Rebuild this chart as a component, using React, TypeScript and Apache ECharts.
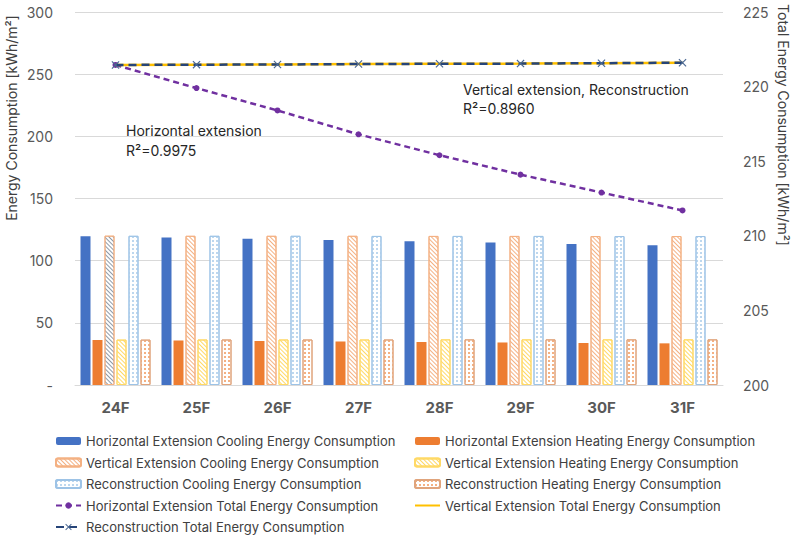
import React, { useEffect, useRef } from "react";
import * as echarts from "echarts";

const categories = ["24F", "25F", "26F", "27F", "28F", "29F", "30F", "31F"];
const leftTicks = [0, 50, 100, 150, 200, 250, 300];
const hCooling = [119.6, 118.7, 117.6, 116.6, 115.6, 114.6, 113.5, 112.4];
const hHeating = [36.2, 35.8, 35.4, 35.0, 34.6, 34.2, 33.8, 33.5];
const vCooling = [120.1, 120.0, 120.0, 120.0, 119.9, 119.9, 119.8, 119.8];
const vHeating = [36.5, 36.6, 36.6, 36.6, 36.7, 36.7, 36.7, 36.7];
const rCooling = [120.0, 120.0, 120.0, 119.9, 119.9, 119.9, 119.8, 119.8];
const rHeating = [36.5, 36.6, 36.6, 36.6, 36.7, 36.7, 36.7, 36.7];
const hTotal = [221.45, 219.9, 218.4, 216.8, 215.4, 214.1, 212.9, 211.7];
const vTotal = [221.45, 221.47, 221.48, 221.51, 221.53, 221.54, 221.57, 221.6];
const rTotal = [221.45, 221.47, 221.48, 221.51, 221.53, 221.54, 221.57, 221.6];

const names = [
  "Horizontal Extension Cooling Energy Consumption",
  "Horizontal Extension Heating Energy Consumption",
  "Vertical Extension Cooling Energy Consumption",
  "Vertical Extension Heating Energy Consumption",
  "Reconstruction Cooling Energy Consumption",
  "Reconstruction Heating Energy Consumption",
  "Horizontal Extension Total Energy Consumption",
  "Vertical Extension Total Energy Consumption",
  "Reconstruction Total Energy Consumption",
];

const FONT = "Inter, 'Noto Sans', sans-serif";

const stripes = (color: string) => ({
  symbol: "rect",
  symbolSize: 1,
  dashArrayX: [1, 0],
  dashArrayY: [1, 1.6],
  rotation: Math.PI / 4,
  color,
});
const dots = (color: string) => ({
  symbol: "rect",
  symbolSize: 1,
  dashArrayX: [1.2, 1.2],
  dashArrayY: [1.2, 1.2],
  rotation: 0,
  color,
});

const xSymbol = "path://M0,1L1,0L5,4L9,0L10,1L6,5L10,9L9,10L5,6L1,10L0,9L4,5Z";

export default function App() {
  const ref = useRef<HTMLDivElement>(null);
  useEffect(() => {
    if (!ref.current) return;
    const chart = echarts.init(ref.current, null, { renderer: "svg" });
    const barBase = { type: "bar", barWidth: 10, barGap: "20%", yAxisIndex: 0 };
    const legendText = { fontFamily: FONT, fontSize: 13, color: "#404040", lineHeight: 16 };
    const legendBase = {
      orient: "vertical",
      top: 433,
      padding: 0,
      itemWidth: 25,
      itemHeight: 8,
      itemGap: 5.5,
      textStyle: legendText,
    };
    chart.setOption({
      animation: false,
      textStyle: { fontFamily: FONT },
      grid: { left: 75, right: 77, top: 12, bottom: 156 },
      xAxis: {
        type: "category",
        data: categories,
        axisLine: { lineStyle: { color: "#D9D9D9", width: 1 } },
        axisTick: { show: false },
        axisLabel: { fontFamily: FONT, fontSize: 15, fontWeight: "bold", color: "#595959", margin: 15 },
      },
      yAxis: [
        {
          type: "value",
          min: leftTicks[0],
          max: leftTicks[leftTicks.length - 1],
          interval: 50,
          axisLine: { show: false },
          axisTick: { show: false },
          splitLine: { lineStyle: { color: "#D9D9D9", width: 1 } },
          axisLabel: {
            fontFamily: FONT,
            fontSize: 14,
            color: "#595959",
            margin: 22,
            formatter: (v: number) => (v === 0 ? "-" : String(v)),
          },
        },
        {
          type: "value",
          min: 200,
          max: 225,
          interval: 5,
          axisLine: { show: false },
          axisTick: { show: false },
          splitLine: { show: false },
          axisLabel: { fontFamily: FONT, fontSize: 14, color: "#595959", margin: 20 },
        },
      ],
      legend: [
        {
          ...legendBase,
          left: 55,
          data: [names[0], names[2], names[4], names[6], names[8]],
        },
        {
          ...legendBase,
          left: 414,
          data: [names[1], names[3], names[5], { name: names[7], itemStyle: { opacity: 0 } }],
        },
      ],
      graphic: [
        {
          type: "text",
          x: 11,
          y: 118,
          rotation: Math.PI / 2,
          style: {
            text: "Energy Consumption [kWh/m²]",
            fontFamily: FONT,
            fontSize: 14,
            fill: "#404040",
            align: "center",
            verticalAlign: "middle",
          },
        },
        {
          type: "text",
          x: 783,
          y: 125,
          rotation: -Math.PI / 2,
          style: {
            text: "Total Energy Consumption [kWh/m²]",
            fontFamily: FONT,
            fontSize: 14,
            fill: "#404040",
            align: "center",
            verticalAlign: "middle",
          },
        },
        {
          type: "text",
          x: 126,
          y: 120,
          style: {
            text: "Horizontal extension\nR²=0.9975",
            fontFamily: FONT,
            fontSize: 14,
            lineHeight: 20,
            fill: "#262626",
            verticalAlign: "top",
          },
        },
        {
          type: "text",
          x: 463,
          y: 79.5,
          style: {
            text: "Vertical extension, Reconstruction\nR²=0.8960",
            fontFamily: FONT,
            fontSize: 14,
            lineHeight: 19,
            fill: "#262626",
            verticalAlign: "top",
          },
        },
      ],
      series: [
        { ...barBase, name: names[0], data: hCooling, itemStyle: { color: "#4472C4" } },
        { ...barBase, name: names[1], data: hHeating, itemStyle: { color: "#ED7D31" } },
        {
          ...barBase,
          name: names[2],
          data: vCooling.map((v, i) =>
            i === 0 ? { value: v, itemStyle: { decal: stripes("#8E9AA8") } } : v
          ),
          itemStyle: { color: "#FFFFFF", borderColor: "#F4B183", borderWidth: 1, decal: stripes("#F4B183") },
        },
        {
          ...barBase,
          name: names[3],
          data: vHeating,
          itemStyle: { color: "#FFFFFF", borderColor: "#FFD966", borderWidth: 1, decal: stripes("#FFD966") },
        },
        {
          ...barBase,
          name: names[4],
          data: rCooling,
          itemStyle: { color: "#FFFFFF", borderColor: "#9DC3E6", borderWidth: 1, decal: dots("#BDD7EE") },
        },
        {
          ...barBase,
          name: names[5],
          data: rHeating,
          itemStyle: { color: "#FFFFFF", borderColor: "#E0A47C", borderWidth: 1, decal: dots("#F4B183") },
        },
        {
          type: "line",
          name: names[6],
          yAxisIndex: 1,
          data: hTotal,
          symbol: "circle",
          symbolSize: 6,
          z: 5,
          lineStyle: { color: "#7030A0", width: 2.5, type: [6, 4] },
          itemStyle: { color: "#7030A0" },
        },
        {
          type: "line",
          name: names[7],
          yAxisIndex: 1,
          data: vTotal,
          symbol: "none",
          z: 6,
          lineStyle: { color: "#FFC000", width: 2.5 },
          itemStyle: { color: "#FFC000" },
        },
        {
          type: "line",
          name: names[8],
          yAxisIndex: 1,
          data: rTotal,
          symbol: xSymbol,
          symbolSize: 8,
          z: 7,
          lineStyle: { color: "#264478", width: 2.5, type: [8, 5] },
          itemStyle: { color: "#4A6893" },
        },
      ],
    });
    return () => chart.dispose();
  }, []);
  return <div ref={ref} style={{ width: 800, height: 541, position: "absolute", left: 0, top: 0 }} />;
}
